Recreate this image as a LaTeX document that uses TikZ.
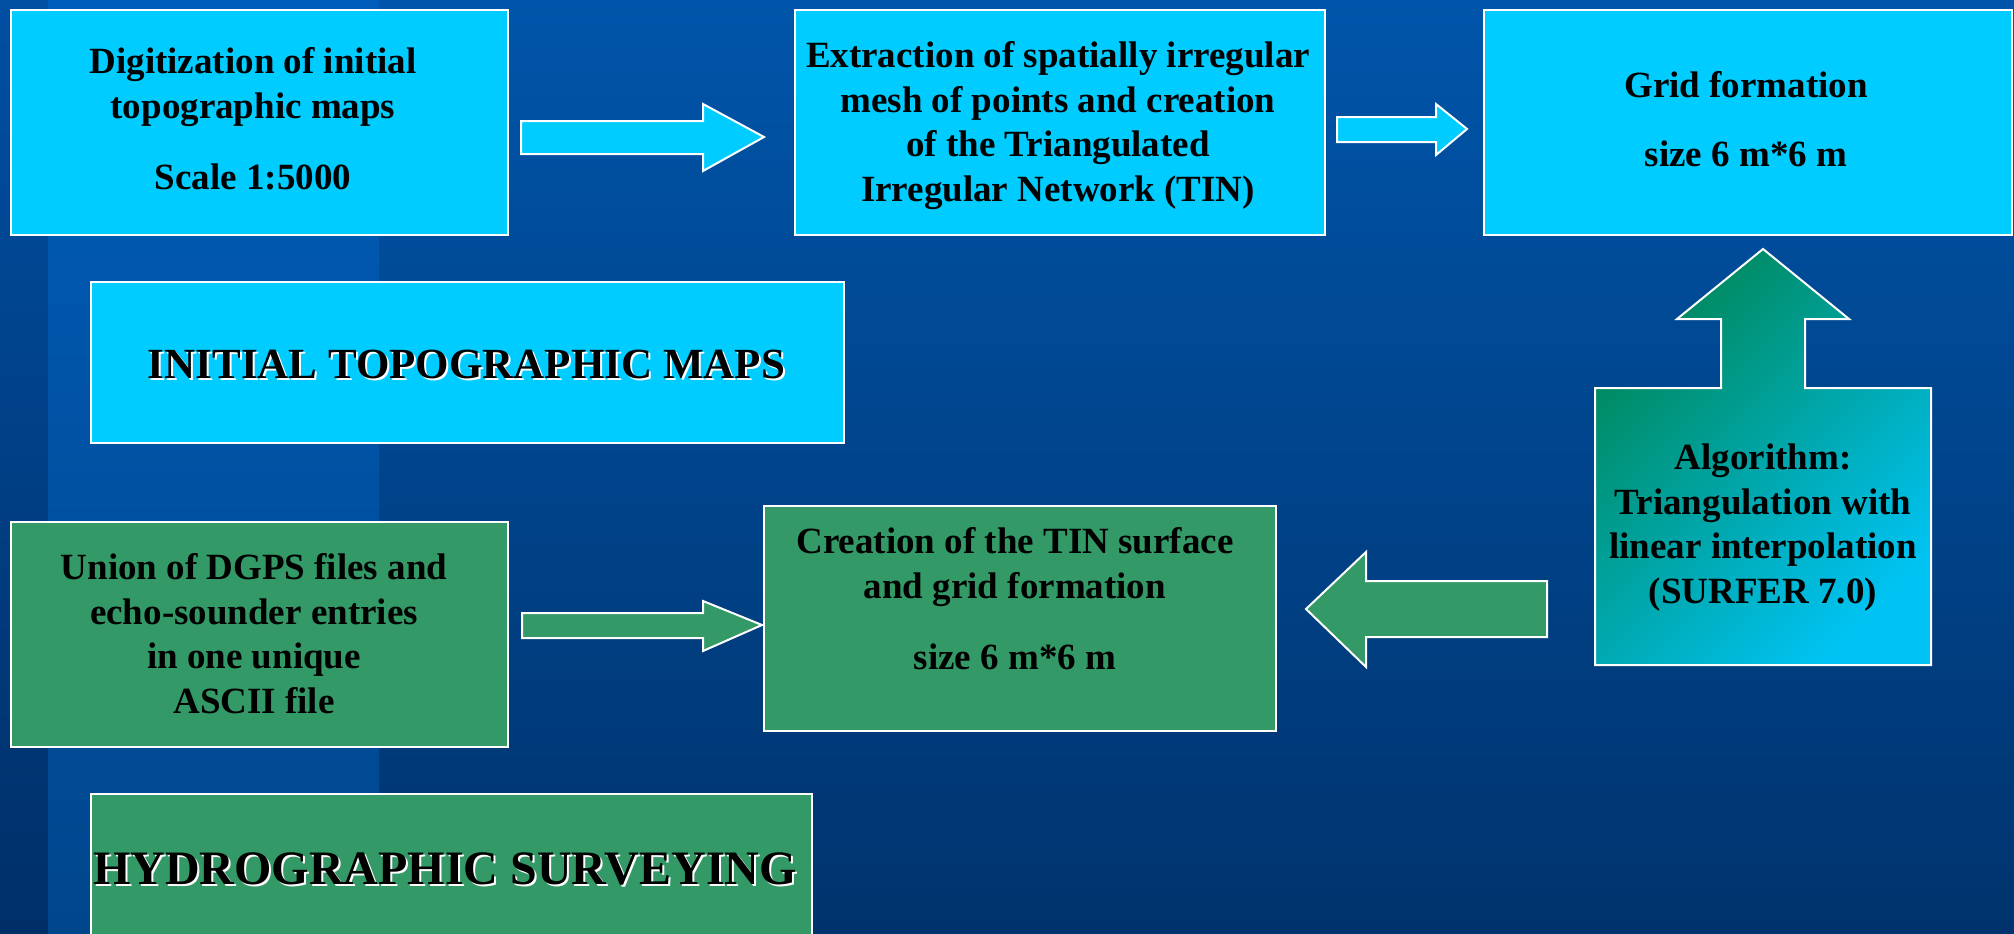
\documentclass[tikz,border=0pt]{standalone}
\usepackage{fontspec}
\setmainfont{Liberation Serif}
\definecolor{bgtop}{HTML}{0055AA}
\definecolor{bgbot}{HTML}{00336D}
\definecolor{striptop}{HTML}{005DBA}
\definecolor{stripbot}{HTML}{00468C}
\definecolor{bandtop}{HTML}{004FA2}
\definecolor{bandbot}{HTML}{002F68}
\definecolor{cyanfill}{HTML}{00CCFF}
\definecolor{greenfill}{HTML}{339966}
\definecolor{calltop}{HTML}{00875A}
\definecolor{callbot}{HTML}{00C3F3}
\begin{document}
\begin{tikzpicture}[x=1pt,y=-1pt,
  boxbase/.style={draw=white, line width=2pt, rectangle, inner sep=0pt, anchor=north west},
  cyanbox/.style={boxbase, fill=cyanfill},
  greenbox/.style={boxbase, fill=greenfill},
  boxtext/.style={anchor=base, inner sep=0pt, align=center, text=black, font=\bfseries\fontsize{37}{44.5}\selectfont},
  titletext/.style={anchor=base, inner sep=0pt, text=black},
  titleshadow/.style={anchor=base, inner sep=0pt, text=white},
  blockarrow/.style={draw=white, line width=2pt, line join=miter}
]
\useasboundingbox (0,0) rectangle (2014,934);
\clip (0,0) rectangle (2014,934);
% background
\shade[top color=bgtop, bottom color=bgbot] (0,0) rectangle (2014,934);
\shade[top color=bandtop, bottom color=bandbot] (0,0) rectangle (48,934);
\shade[top color=striptop, bottom color=stripbot] (48,0) rectangle (379,934);

% top row (text nodes anchored at the baseline of their last line)
\node[cyanbox, minimum width=497pt, minimum height=225pt] (b1) at (10,9) {};
\node[boxtext] (b1t) at (253,189) {Digitization of initial\\topographic maps\\[26.5pt]Scale 1:5000};

\node[cyanbox, minimum width=530pt, minimum height=225pt] (b2) at (794,9) {};
\node[boxtext] (b2t) at (1058,201) {Extraction of spatially irregular\\mesh of points and creation\\of the Triangulated\\Irregular Network (TIN)};

\node[cyanbox, minimum width=528pt, minimum height=225pt] (b3) at (1483,9) {};
\node[boxtext] (b3t) at (1746,166) {Grid formation\\[24.5pt]size 6 m*6 m};

% title 1
\node[cyanbox, minimum width=753pt, minimum height=161pt] (t1) at (90,281) {};
\node[titleshadow, font=\bfseries\fontsize{43}{50}\selectfont] (t1s) at (468.5,380) {INITIAL TOPOGRAPHIC MAPS};
\node[titletext, font=\bfseries\fontsize{43}{50}\selectfont] (t1t) at (466.5,378) {INITIAL TOPOGRAPHIC MAPS};

% bottom row
\node[greenbox, minimum width=497pt, minimum height=225pt] (b4) at (10,521) {};
\node[boxtext] (b4t) at (254,713) {Union of DGPS files and\\echo-sounder entries\\in one unique\\ASCII file};

\node[greenbox, minimum width=512pt, minimum height=225pt] (b5) at (763,505) {};
\node[boxtext] (b5t) at (1015,669) {Creation of the TIN surface\\and grid formation\\[26.5pt]size 6 m*6 m};

% title 2
\node[greenbox, minimum width=721pt, minimum height=200pt] (t2) at (90,793) {};
\node[titleshadow, font=\bfseries\fontsize{48}{55}\selectfont] (t2s) at (447,886) {HYDROGRAPHIC SURVEYING};
\node[titletext, font=\bfseries\fontsize{48}{55}\selectfont] (t2t) at (445,884) {HYDROGRAPHIC SURVEYING};

% callout (algorithm with up arrow)
\path[blockarrow, top color=calltop, bottom color=callbot, shading angle=45]
  (1595,388) -- (1721,388) -- (1721,319) -- (1677,319) -- (1763,249)
  -- (1849,319) -- (1805,319) -- (1805,388) -- (1931,388) -- (1931,665)
  -- (1595,665) -- cycle;
\node[boxtext] (ct) at (1763,603) {Algorithm:\\Triangulation with\\linear interpolation\\(SURFER 7.0)};

% block arrows
\draw[blockarrow, fill=cyanfill] (521,121) -- (703,121) -- (703,104) -- (764,137)
  -- (703,171) -- (703,154) -- (521,154) -- cycle;
\draw[blockarrow, fill=cyanfill] (1337,117) -- (1436,117) -- (1436,104) -- (1467,129)
  -- (1436,155) -- (1436,142) -- (1337,142) -- cycle;
\draw[blockarrow, fill=greenfill] (522,613) -- (703,613) -- (703,601) -- (762,625)
  -- (703,651) -- (703,638) -- (522,638) -- cycle;
\draw[blockarrow, fill=greenfill] (1547,581) -- (1366,581) -- (1366,552) -- (1306,609)
  -- (1366,667) -- (1366,637) -- (1547,637) -- cycle;
\end{tikzpicture}
\end{document}
